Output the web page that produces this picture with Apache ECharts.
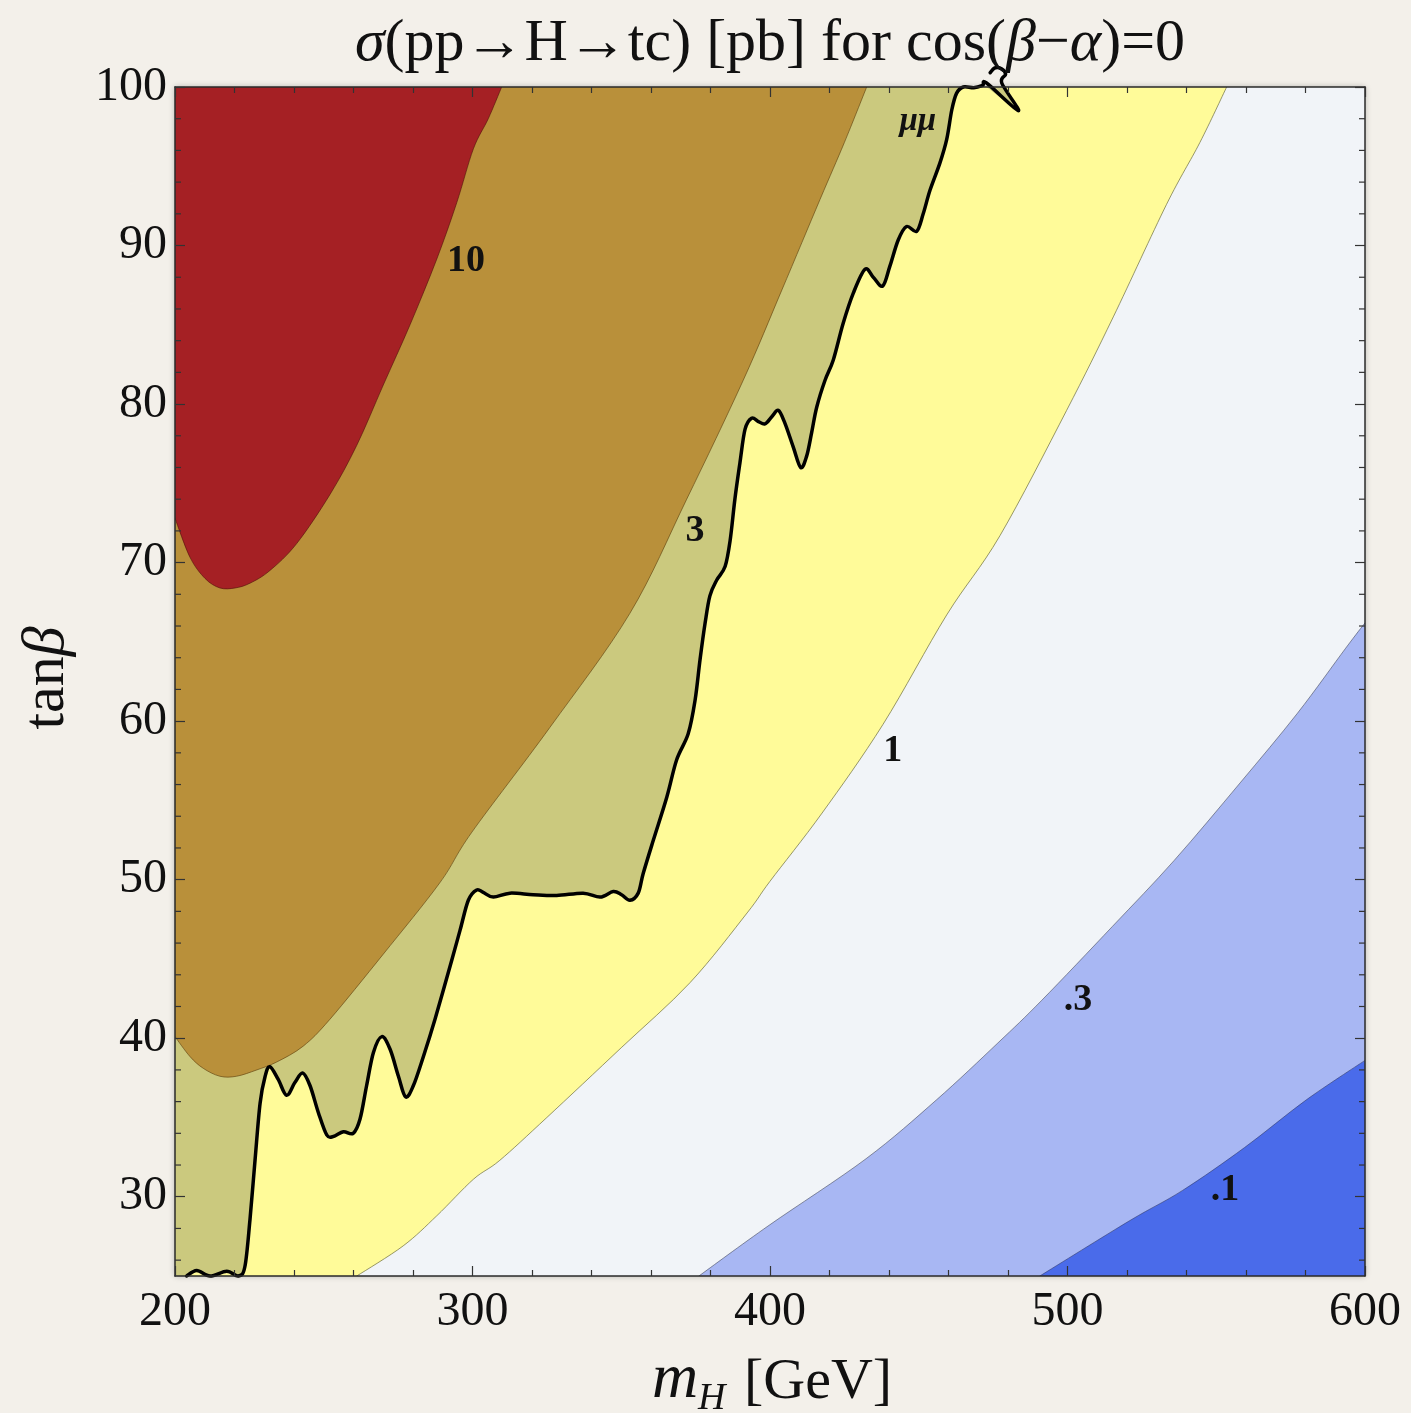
<!DOCTYPE html>
<html>
<head>
<meta charset="utf-8">
<script src="https://cdn.jsdelivr.net/npm/echarts@6/dist/echarts.min.js"></script>
<style>
  html, body { margin: 0; padding: 0; background: #f3f0ea; }
  #chart { width: 1411px; height: 1413px; }
</style>
</head>
<body>
<div id="chart"></div>
<script>
// Axis ticks
const xTicks = [200, 300, 400, 500, 600];
const yTicks = [30, 40, 50, 60, 70, 80, 90, 100];
const yMinorTicks = [26, 28, 32, 34, 36, 38, 42, 44, 46, 48, 52, 54, 56, 58, 62, 64, 66, 68,
                     72, 74, 76, 78, 82, 84, 86, 88, 92, 94, 96, 98];

// Contour of sigma = 10 pb  [m_H, tan(beta)]
const contour10 = [[200, 72.8], [205, 70.35], [210.1, 69.0], [215.1, 68.4], [220.2, 68.4], [225.2, 68.7],
  [231.9, 69.5], [240.9, 71.2], [252.1, 74.3], [261.1, 77.4], [270, 81.2], [279, 85.0], [288, 89.15],
  [294.7, 92.7], [300.3, 96.1], [305.3, 98.0], [309.8, 100]];

// Contour of sigma = 3 pb
const contour3 = [[200, 40.1], [205, 38.85], [209.5, 38.1], [215.1, 37.6], [220.7, 37.6], [227.5, 38.0],
  [234.2, 38.5], [243.1, 39.5], [252.1, 41.2], [270, 45.3], [289, 49.8], [299.8, 53.0], [326, 59.6],
  [352.9, 66.8], [372, 74.0], [391, 81.5], [404, 87.2], [416.8, 92.9], [425, 96.5], [432.5, 100]];

// Contour of sigma = 1 pb
const contour1 = [[261.1, 25], [276.7, 26.9], [288, 28.8], [300.3, 31.1], [309.2, 32.3],
  [325, 35.0], [350, 39.4], [373.1, 43.5], [392.3, 47.9], [400, 49.9], [417.5, 54.2], [438, 59.8],
  [459.4, 66.7], [477.3, 71.7], [499.7, 79.6], [515.4, 85.5], [533.3, 92.6], [544.5, 96.5], [553.5, 100]];

// Contour of sigma = 0.3 pb
const contour03 = [[376.1, 25], [399.7, 28.2], [432.3, 32.4], [455.9, 36.1], [476.6, 39.7],
  [491.4, 42.4], [515.1, 47.05], [535.8, 51.2], [558, 56.1], [577.3, 60.5], [593.5, 64.6], [600, 66.2]];

// Contour of sigma = 0.1 pb
const contour01 = [[490.7, 25], [521, 28.5], [538.7, 30.4], [559.5, 33.1], [580.2, 36.1], [600, 38.6]];

// Exclusion boundary from the mu-mu search
const muLine = [[203.9, 25.0], [207.3, 25.35], [211.8, 25.0], [217.4, 25.3], [221.3, 25.0], [223.5, 25.6],
  [225.2, 28.55], [226.9, 32.3], [228.6, 35.9], [230.3, 37.6], [231.9, 38.2], [234.7, 37.4], [237.5, 36.4],
  [240.3, 37.2], [242.9, 37.8], [245.4, 37.0], [248.2, 35.3], [251.0, 33.9], [253.2, 33.8], [256.6, 34.1],
  [259.9, 34.0], [262.2, 34.9], [264.4, 37.0], [266.7, 39.1], [269.5, 40.1], [272.3, 39.3], [275.1, 37.6],
  [277.5, 36.3], [280.1, 37.0], [283.5, 38.85], [287.4, 41.2], [293.0, 44.9], [295.8, 46.8], [298.6, 48.7],
  [301.4, 49.35], [303.6, 49.2], [307.0, 48.9], [312.6, 49.15], [320.4, 49.05], [328.3, 49.0], [337.2, 49.15],
  [342.9, 48.9], [347.3, 49.25], [350.1, 49.05], [352.9, 48.7], [355.7, 49.15], [357.4, 50.4], [360.8, 52.5],
  [365.3, 55.2], [368.6, 57.55], [372.5, 59.2], [374.8, 61.3], [376.5, 63.9], [378.2, 66.2], [379.8, 67.9],
  [382.1, 68.9], [384.9, 69.75], [386.6, 71.4], [388.2, 74.0], [389.9, 76.3], [391.6, 78.4], [393.8, 79.1],
  [396.1, 78.9], [398.3, 78.75], [400.6, 79.2], [402.8, 79.6], [405.0, 78.8], [407.8, 77.3], [410.3, 76.0],
  [412.3, 76.7], [414.0, 78.2], [415.7, 79.8], [418.5, 81.5], [421.3, 82.8], [424.6, 85.1], [428.0, 87.0],
  [431.9, 88.5], [434.7, 88.0], [437.9, 87.45], [440.3, 88.7], [443.1, 90.35], [445.9, 91.2], [449.3, 90.9],
  [451.5, 92.0], [453.8, 93.5], [457.1, 95.2], [459.4, 96.7], [461.1, 98.55], [462.7, 99.6], [465.0, 100.0],
  [468.5, 99.95], [471.5, 100.1], [472.8, 100.25], [483.5, 98.5], [477.9, 100.25], [479.2, 100.8],
  [477.8, 101.15], [475.5, 101.2], [474.0, 100.9]];

// Contour level labels
const levelLabels = ['10', '3', '1', '.3', '.1', 'μμ'];
const levelLabelAt = [[297.8, 89.0], [374.8, 72.0], [441.3, 58.1], [503.5, 42.4], [552.9, 30.4], [449.7, 97.8]];

const X_MIN = 200, X_MAX = 600, Y_MIN = 25, Y_MAX = 100;
const SERIF = '"Liberation Serif", "DejaVu Serif", serif';

// Catmull-Rom spline through pixel points, as SVG cubic segments
function splineSegments(pts) {
  let d = '';
  for (let i = 0; i < pts.length - 1; i++) {
    const p0 = pts[i - 1] || pts[i], p1 = pts[i], p2 = pts[i + 1], p3 = pts[i + 2] || p2;
    const c1x = p1[0] + (p2[0] - p0[0]) / 6, c1y = p1[1] + (p2[1] - p0[1]) / 6;
    const c2x = p2[0] - (p3[0] - p1[0]) / 6, c2y = p2[1] - (p3[1] - p1[1]) / 6;
    d += ' C' + c1x.toFixed(2) + ' ' + c1y.toFixed(2) + ' ' + c2x.toFixed(2) + ' ' + c2y.toFixed(2) +
         ' ' + p2[0].toFixed(2) + ' ' + p2[1].toFixed(2);
  }
  return d;
}
const moveTo = p => 'M' + p[0].toFixed(2) + ' ' + p[1].toFixed(2);
const lineTo = p => ' L' + p[0].toFixed(2) + ' ' + p[1].toFixed(2);

// A band bounded by frame corners (before / after) and a smooth contour
function band(curve, before, after, fill, stroke, clip) {
  return {
    type: 'custom', coordinateSystem: 'cartesian2d', silent: true, z: 2, clip: clip !== false,
    data: [[X_MIN, Y_MIN]],
    renderItem: (params, api) => {
      const c = curve.map(p => api.coord(p));
      const b = before.map(p => api.coord(p));
      const a = after.map(p => api.coord(p));
      let d = b.length ? moveTo(b[0]) + b.slice(1).map(lineTo).join('') + lineTo(c[0]) : moveTo(c[0]);
      d += splineSegments(c) + a.map(lineTo).join('') + ' Z';
      const children = [{ type: 'path', shape: { pathData: d }, style: { fill: fill } }];
      if (stroke) {
        children.push({
          type: 'path', shape: { pathData: moveTo(c[0]) + splineSegments(c) },
          style: { fill: null, stroke: stroke.color, lineWidth: stroke.width, lineJoin: 'round', lineCap: 'round' }
        });
      }
      return { type: 'group', children: children };
    }
  };
}

const clampTop = p => [p[0], Math.min(p[1], Y_MAX)];
const muEnd = muLine.findIndex(p => p[0] === 477.9);
const muFillCurve = muLine.slice(0, muEnd + 1).map(clampTop);

const axisLineStyle = { color: '#2a2a2a', width: 1.5 };
const tickStyle = { color: '#333', width: 1.2 };

function xAxisDef(pos, showLabels) {
  return {
    type: 'value', position: pos, min: X_MIN, max: X_MAX, interval: 100, z: 10,
    axisLine: { show: true, onZero: false, lineStyle: axisLineStyle },
    axisTick: { show: true, inside: true, length: 10, lineStyle: tickStyle },
    minorTick: { show: true, splitNumber: 5, length: 6, lineStyle: tickStyle },
    axisLabel: { show: showLabels, margin: 12, color: '#111', fontFamily: SERIF, fontSize: 48 },
    splitLine: { show: false }, minorSplitLine: { show: false }
  };
}
function yAxisDef(pos, showLabels) {
  return {
    type: 'value', position: pos, min: Y_MIN, max: Y_MAX, z: 10,
    axisLine: { show: true, onZero: false, lineStyle: axisLineStyle },
    axisTick: { show: true, inside: true, length: 10, customValues: yTicks, lineStyle: tickStyle },
    axisLabel: { show: showLabels, customValues: yTicks, margin: 8, color: '#111', fontFamily: SERIF, fontSize: 48 },
    splitLine: { show: false }
  };
}

const TL = [X_MIN, Y_MAX], TR = [X_MAX, Y_MAX], BL = [X_MIN, Y_MIN], BR = [X_MAX, Y_MIN];
const thin = c => ({ color: c, width: 1 });

const chart = echarts.init(document.getElementById('chart'), null, { renderer: 'canvas' });

chart.setOption({
  backgroundColor: '#f3f0ea',
  animation: false,
  grid: { left: 175, right: 46, top: 87, bottom: 137, containLabel: false },
  xAxis: [xAxisDef('bottom', true), xAxisDef('top', false)],
  yAxis: [yAxisDef('left', true), yAxisDef('right', false)],
  graphic: [
    {
      // soft drop shadow around the frame
      type: 'rect', z: -1, silent: true,
      shape: { x: 175, y: 87, width: 1190, height: 1189 },
      style: { fill: '#f3f0ea', shadowBlur: 6, shadowColor: 'rgba(0,0,0,0.3)', shadowOffsetX: 0, shadowOffsetY: 0 }
    },
    {
      type: 'text', x: 770, y: 44, z: 20,
      style: {
        text: '{i|σ}(pp→H→tc) [pb] for cos({i|β}−{i|α})=0',
        font: '60px ' + SERIF, fill: '#111',
        align: 'center', verticalAlign: 'middle', textAlign: 'center', textVerticalAlign: 'middle',
        rich: { i: { fontStyle: 'italic', fontSize: 60, fontFamily: SERIF } }
      }
    },
    {
      type: 'group', x: 770, y: 0, z: 20,
      children: [
        { type: 'text', x: -118, y: 1412, style: { text: 'm', font: 'italic 64px ' + SERIF, fill: '#111', align: 'left', verticalAlign: 'bottom', textAlign: 'left', textVerticalAlign: 'bottom' } },
        { type: 'text', x: -72, y: 1418, style: { text: 'H', font: 'italic 38px ' + SERIF, fill: '#111', align: 'left', verticalAlign: 'bottom', textAlign: 'left', textVerticalAlign: 'bottom' } },
        { type: 'text', x: -26, y: 1412, style: { text: '[GeV]', font: '58px ' + SERIF, fill: '#111', align: 'left', verticalAlign: 'bottom', textAlign: 'left', textVerticalAlign: 'bottom' } }
      ]
    },
    {
      type: 'text', x: 47, y: 678, rotation: Math.PI / 2, z: 20,
      style: {
        text: 'tan{i|β}', font: '60px ' + SERIF, fill: '#111',
        align: 'center', verticalAlign: 'middle', textAlign: 'center', textVerticalAlign: 'middle',
        rich: { i: { fontStyle: 'italic', fontSize: 60, fontFamily: SERIF } }
      }
    }
  ],
  series: [
    // lowest band fills the whole frame
    band([BL, BR], [], [TR, TL], '#4a6bea', null),
    band(contour01, [BL], [TR, TL], '#a8b7f3', thin('rgba(50,60,110,0.6)')),
    band(contour03, [BL], [TR, TL], '#f1f4f8', thin('rgba(70,75,95,0.6)')),
    band(contour1, [BL], [TL], '#fffb99', thin('rgba(110,110,60,0.7)')),
    band(muFillCurve, [TL, BL], [TL], '#cbc97e', null),
    band(contour3, [], [TL], '#b9903a', thin('rgba(90,60,10,0.6)')),
    band(contour10, [], [TL], '#a52024', thin('rgba(80,15,10,0.6)')),
    // mu-mu exclusion boundary, allowed to run past the frame
    {
      type: 'custom', coordinateSystem: 'cartesian2d', silent: true, z: 5, clip: false,
      data: [[X_MIN, Y_MIN]],
      renderItem: (params, api) => {
        const c = muLine.map(p => api.coord(p));
        return {
          type: 'path', shape: { pathData: moveTo(c[0]) + splineSegments(c) },
          style: { fill: null, stroke: '#000', lineWidth: 3.5, lineJoin: 'round', lineCap: 'round' }
        };
      }
    },
    {
      // minor ticks on the tan(beta) axes
      type: 'custom', coordinateSystem: 'cartesian2d', silent: true, z: 11,
      data: [[X_MIN, Y_MIN]],
      renderItem: (params, api) => {
        const children = [];
        yMinorTicks.forEach(v => {
          const l = api.coord([X_MIN, v]);
          const r = api.coord([X_MAX, v]);
          children.push({ type: 'line', shape: { x1: l[0], y1: l[1], x2: l[0] + 6, y2: l[1] }, style: { stroke: '#333', lineWidth: 1.2 } });
          children.push({ type: 'line', shape: { x1: r[0], y1: r[1], x2: r[0] - 6, y2: r[1] }, style: { stroke: '#333', lineWidth: 1.2 } });
        });
        return { type: 'group', children: children };
      }
    },
    {
      // contour level labels
      type: 'custom', coordinateSystem: 'cartesian2d', silent: true, z: 12,
      data: levelLabels.map((t, i) => [levelLabelAt[i][0], levelLabelAt[i][1], i]),
      renderItem: (params, api) => {
        const i = api.value(2);
        const p = api.coord([api.value(0), api.value(1)]);
        const isMu = levelLabels[i] === 'μμ';
        return {
          type: 'text', x: p[0], y: p[1],
          style: {
            text: levelLabels[i],
            font: (isMu ? 'italic bold 33px ' : 'bold 38px ') + SERIF,
            fill: '#111', align: 'center', verticalAlign: 'middle',
            textAlign: 'center', textVerticalAlign: 'middle'
          }
        };
      }
    }
  ]
});
</script>
</body>
</html>
